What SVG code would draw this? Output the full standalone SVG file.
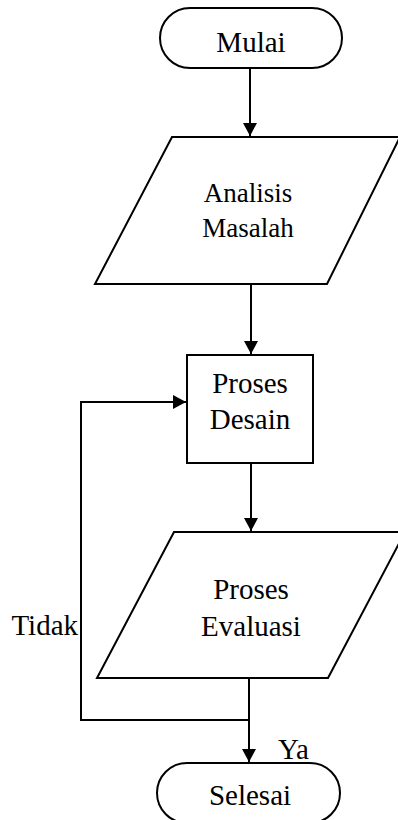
<svg xmlns="http://www.w3.org/2000/svg" width="398" height="820" viewBox="0 0 398 820">
<defs>
<marker id="arr" markerWidth="14" markerHeight="14" refX="13" refY="7" orient="auto" markerUnits="userSpaceOnUse">
<path d="M0,0 L13,7 L0,14 Z" fill="#000"/>
</marker>
<style>
.s{fill:#fff;stroke:#000;stroke-width:2}
.t{font-family:"Liberation Serif","Times New Roman",serif;font-size:29px;fill:#000;text-anchor:middle}
.c{fill:none;stroke:#000;stroke-width:2}
</style>
</defs>
<rect width="398" height="820" fill="#fff"/>
<g id="mulai">
<rect class="s" x="160" y="8" width="182" height="60" rx="30"/>
<text class="t" x="251" y="52">Mulai</text>
</g>
<g id="analisis">
<polygon class="s" points="172,137 400,137 327,284 95,284"/>
<text class="t" x="248" y="202" style="font-size:27px">Analisis</text>
<text class="t" x="248" y="237" style="font-size:27px">Masalah</text>
</g>
<g id="desain">
<rect class="s" x="187" y="355" width="126" height="108"/>
<text class="t" x="250" y="393">Proses</text>
<text class="t" x="250" y="429">Desain</text>
</g>
<g id="evaluasi">
<polygon class="s" points="174,532 405,532 328,678 97,678"/>
<text class="t" x="251" y="599">Proses</text>
<text class="t" x="251" y="636">Evaluasi</text>
</g>
<g id="selesai">
<rect class="s" x="157" y="763" width="183" height="60" rx="30"/>
<text class="t" x="250" y="805">Selesai</text>
</g>
<g id="connectors">
<line class="c" x1="250" y1="68" x2="250" y2="136" marker-end="url(#arr)"/>
<line class="c" x1="251" y1="284" x2="251" y2="354" marker-end="url(#arr)"/>
<line class="c" x1="251" y1="463" x2="251" y2="531" marker-end="url(#arr)"/>
<polyline class="c" points="249,678 249,720 81,720 81,402 186,402" marker-end="url(#arr)"/>
<line class="c" x1="249" y1="720" x2="249" y2="762" marker-end="url(#arr)"/>
<text class="t" x="78" y="635" style="text-anchor:end">Tidak</text>
<text class="t" x="278" y="759" style="text-anchor:start">Ya</text>
</g>
</svg>
